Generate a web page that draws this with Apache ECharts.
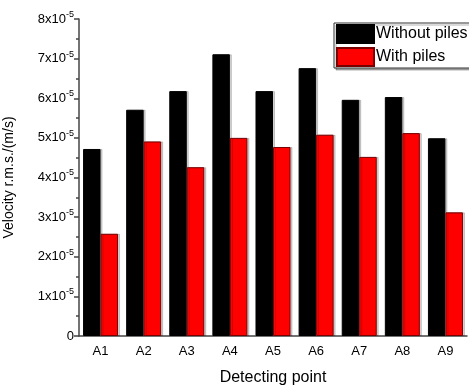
<!DOCTYPE html>
<html lang="en">
<head>
<meta charset="UTF-8">
<title>Velocity r.m.s.</title>
<script src="https://cdn.jsdelivr.net/npm/echarts@6/dist/echarts.min.js"></script>
</head>
<body style="margin:0;background:#fff;">
<div id="chart" style="width:469px;height:385px;"></div>
<script>
// detecting points and velocity r.m.s. (m/s)
var points = ['A1', 'A2', 'A3', 'A4', 'A5', 'A6', 'A7', 'A8', 'A9'];
var withoutPiles = [4.72e-5, 5.71e-5, 6.18e-5, 7.11e-5, 6.18e-5, 6.76e-5, 5.96e-5, 6.03e-5, 4.99e-5];
var withPiles = [2.58e-5, 4.91e-5, 4.26e-5, 5.0e-5, 4.77e-5, 5.08e-5, 4.52e-5, 5.12e-5, 3.12e-5];
var seriesNames = ['Without piles', 'With piles'];

var font = 'Liberation Sans, Arial, sans-serif';
var axisColor = '#444';

var chart = echarts.init(document.getElementById('chart'));

chart.setOption({
    animation: false,
    textStyle: { fontFamily: font, color: '#000' },
    grid: { left: 79, right: 2, top: 19, bottom: 49, containLabel: false, outerBoundsMode: 'none' },
    legend: {
        orient: 'vertical',
        left: 334,
        top: 23,
        itemWidth: 37,
        itemHeight: 18,
        itemGap: 3,
        padding: [1, 10, 1, 2],
        borderColor: '#333',
        borderWidth: 1,
        backgroundColor: '#fff',
        shadowColor: 'rgba(0,0,0,0.3)',
        shadowOffsetX: 2,
        shadowOffsetY: 2,
        shadowBlur: 0,
        icon: 'rect',
        textStyle: { fontSize: 16, fontFamily: font, color: '#000', padding: [0, 0, 0, -3] },
        data: seriesNames
    },
    xAxis: [{
        type: 'category',
        data: points,
        name: 'Detecting point',
        nameLocation: 'middle',
        nameGap: 34,
        nameTextStyle: { fontSize: 16, fontFamily: font, color: '#000' },
        axisLine: { lineStyle: { color: axisColor, width: 1.5 } },
        axisTick: { alignWithLabel: true, length: 5, lineStyle: { color: axisColor, width: 1.5 } },
        axisLabel: { fontSize: 13, color: '#000', margin: 9 },
        splitLine: { show: false }
    }, {
        // boundary ticks between the groups
        type: 'category',
        data: points,
        position: 'bottom',
        axisLine: { show: false },
        axisTick: { length: 3, lineStyle: { color: axisColor, width: 1.5 } },
        axisLabel: { show: false },
        splitLine: { show: false }
    }],
    yAxis: {
        type: 'value',
        min: 0,
        max: 8e-5,
        interval: 1e-5,
        name: 'Velocity r.m.s./(m/s)',
        nameLocation: 'middle',
        nameGap: 63,
        nameRotate: 90,
        nameTextStyle: { fontSize: 14, fontFamily: font, color: '#000' },
        axisLine: { show: true, lineStyle: { color: axisColor, width: 1.5 } },
        axisTick: { show: true, length: 5, lineStyle: { color: axisColor, width: 1.5 } },
        minorTick: { show: true, splitNumber: 2, length: 3, lineStyle: { color: axisColor, width: 1.5 } },
        splitLine: { show: false },
        axisLabel: {
            margin: 5,
            formatter: function (v) {
                var n = Math.round(v * 1e5);
                if (n === 0) return '{a|0}';
                return '{a|' + n + 'x10}{b|-5}';
            },
            rich: {
                a: { fontSize: 13, fontFamily: font, color: '#000' },
                b: { fontSize: 9, fontFamily: font, color: '#000', padding: [0, 0, 9, 0] }
            }
        }
    },
    series: [{
        name: seriesNames[0],
        type: 'bar',
        data: withoutPiles,
        barWidth: '40.6%',
        barGap: '0%',
        itemStyle: {
            color: '#000',
            borderColor: '#000',
            borderWidth: 1,
            shadowColor: 'rgba(0,0,0,0.18)',
            shadowOffsetX: 2,
            shadowOffsetY: 0
        }
    }, {
        name: seriesNames[1],
        type: 'bar',
        data: withPiles,
        barWidth: '40.6%',
        itemStyle: {
            color: '#ff0000',
            borderColor: '#7a0000',
            borderWidth: 1,
            shadowColor: 'rgba(0,0,0,0.18)',
            shadowOffsetX: 2,
            shadowOffsetY: 0
        }
    }]
});
</script>
</body>
</html>
